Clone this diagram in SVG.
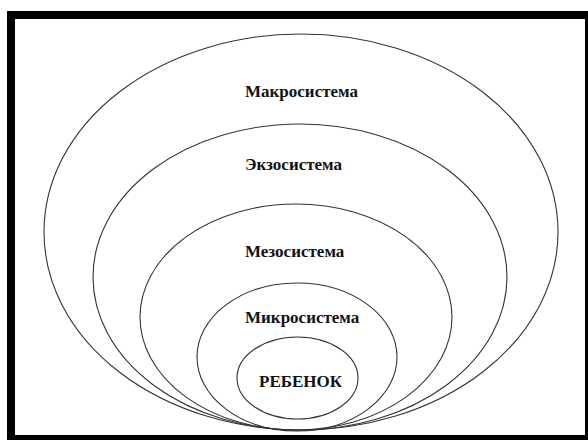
<svg xmlns="http://www.w3.org/2000/svg" width="588" height="440" viewBox="0 0 588 440">
<style>
.ring{fill:none;stroke:#333;stroke-width:1.1}
.lbl{font-family:"Liberation Serif","Times New Roman",serif;font-weight:bold;font-size:17px;fill:#111}
</style>
<rect x="0" y="0" width="588" height="440" fill="#fff"/>
<rect x="11" y="15" width="578" height="424" fill="none" stroke="#000" stroke-width="8"/>
<g id="macro">
<ellipse class="ring" cx="301" cy="232" rx="257" ry="198"/>
<text class="lbl" x="245" y="97">Макросистема</text>
</g>
<g id="exo">
<ellipse class="ring" cx="300" cy="277" rx="207" ry="153"/>
<text class="lbl" x="245" y="170">Экзосистема</text>
</g>
<g id="meso">
<ellipse class="ring" cx="296" cy="317" rx="156" ry="113"/>
<text class="lbl" x="245" y="257">Мезосистема</text>
</g>
<g id="micro">
<ellipse class="ring" cx="297" cy="357" rx="100" ry="74"/>
<text class="lbl" x="245" y="323">Микросистема</text>
</g>
<g id="child">
<ellipse class="ring" cx="297.5" cy="378" rx="60.5" ry="41"/>
<text class="lbl" x="259" y="387">РЕБЕНОК</text>
</g>
</svg>
